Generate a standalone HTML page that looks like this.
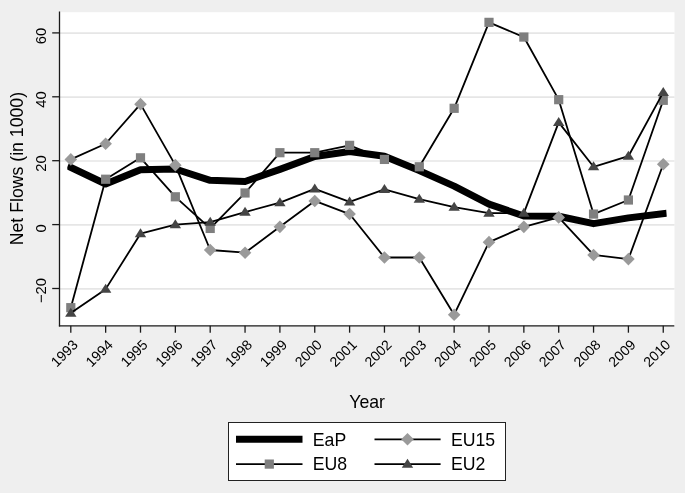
<!DOCTYPE html>
<html><head><meta charset="utf-8"><style>
html,body{margin:0;padding:0;background:#efefef;}
svg{display:block;will-change:transform;}
text{font-family:"Liberation Sans",sans-serif;fill:#000;}
</style></head><body>
<svg width="685" height="493" viewBox="0 0 685 493">
<rect x="0" y="0" width="685" height="493" fill="#efefef"/>
<rect x="59.5" y="12.2" width="615" height="313.8" fill="#fff"/>

<line x1="60" y1="33.20" x2="674.5" y2="33.20" stroke="#e6e6e6" stroke-width="1.7"/>
<line x1="60" y1="97.10" x2="674.5" y2="97.10" stroke="#e6e6e6" stroke-width="1.7"/>
<line x1="60" y1="161.00" x2="674.5" y2="161.00" stroke="#e6e6e6" stroke-width="1.7"/>
<line x1="60" y1="224.90" x2="674.5" y2="224.90" stroke="#e6e6e6" stroke-width="1.7"/>
<line x1="60" y1="288.80" x2="674.5" y2="288.80" stroke="#e6e6e6" stroke-width="1.7"/>
<line x1="59.5" y1="11.5" x2="59.5" y2="326.4" stroke="#1a1a1a" stroke-width="1.3"/>
<line x1="58.9" y1="325.9" x2="674.3" y2="325.9" stroke="#1a1a1a" stroke-width="1.3"/>
<line x1="52.2" y1="32.90" x2="59.5" y2="32.90" stroke="#1a1a1a" stroke-width="1.3"/>
<text transform="translate(45.5,36.10) rotate(-90)" text-anchor="middle" font-size="14.8">60</text>
<line x1="52.2" y1="96.80" x2="59.5" y2="96.80" stroke="#1a1a1a" stroke-width="1.3"/>
<text transform="translate(45.5,99.50) rotate(-90)" text-anchor="middle" font-size="14.8">40</text>
<line x1="52.2" y1="160.70" x2="59.5" y2="160.70" stroke="#1a1a1a" stroke-width="1.3"/>
<text transform="translate(45.5,163.50) rotate(-90)" text-anchor="middle" font-size="14.8">20</text>
<line x1="52.2" y1="224.60" x2="59.5" y2="224.60" stroke="#1a1a1a" stroke-width="1.3"/>
<text transform="translate(45.5,228.50) rotate(-90)" text-anchor="middle" font-size="14.8">0</text>
<line x1="52.2" y1="288.50" x2="59.5" y2="288.50" stroke="#1a1a1a" stroke-width="1.3"/>
<text transform="translate(45.5,290.50) rotate(-90)" text-anchor="middle" font-size="14.8">−20</text>
<line x1="70.80" y1="325.8" x2="70.80" y2="332.7" stroke="#1a1a1a" stroke-width="1.3"/>
<text transform="translate(78.90,345.7) rotate(-45)" text-anchor="end" font-size="14.1">1993</text>
<line x1="105.65" y1="325.8" x2="105.65" y2="332.7" stroke="#1a1a1a" stroke-width="1.3"/>
<text transform="translate(113.75,345.7) rotate(-45)" text-anchor="end" font-size="14.1">1994</text>
<line x1="140.50" y1="325.8" x2="140.50" y2="332.7" stroke="#1a1a1a" stroke-width="1.3"/>
<text transform="translate(148.60,345.7) rotate(-45)" text-anchor="end" font-size="14.1">1995</text>
<line x1="175.35" y1="325.8" x2="175.35" y2="332.7" stroke="#1a1a1a" stroke-width="1.3"/>
<text transform="translate(183.45,345.7) rotate(-45)" text-anchor="end" font-size="14.1">1996</text>
<line x1="210.20" y1="325.8" x2="210.20" y2="332.7" stroke="#1a1a1a" stroke-width="1.3"/>
<text transform="translate(218.30,345.7) rotate(-45)" text-anchor="end" font-size="14.1">1997</text>
<line x1="245.05" y1="325.8" x2="245.05" y2="332.7" stroke="#1a1a1a" stroke-width="1.3"/>
<text transform="translate(253.15,345.7) rotate(-45)" text-anchor="end" font-size="14.1">1998</text>
<line x1="279.90" y1="325.8" x2="279.90" y2="332.7" stroke="#1a1a1a" stroke-width="1.3"/>
<text transform="translate(288.00,345.7) rotate(-45)" text-anchor="end" font-size="14.1">1999</text>
<line x1="314.75" y1="325.8" x2="314.75" y2="332.7" stroke="#1a1a1a" stroke-width="1.3"/>
<text transform="translate(322.85,345.7) rotate(-45)" text-anchor="end" font-size="14.1">2000</text>
<line x1="349.60" y1="325.8" x2="349.60" y2="332.7" stroke="#1a1a1a" stroke-width="1.3"/>
<text transform="translate(357.70,345.7) rotate(-45)" text-anchor="end" font-size="14.1">2001</text>
<line x1="384.45" y1="325.8" x2="384.45" y2="332.7" stroke="#1a1a1a" stroke-width="1.3"/>
<text transform="translate(392.55,345.7) rotate(-45)" text-anchor="end" font-size="14.1">2002</text>
<line x1="419.30" y1="325.8" x2="419.30" y2="332.7" stroke="#1a1a1a" stroke-width="1.3"/>
<text transform="translate(427.40,345.7) rotate(-45)" text-anchor="end" font-size="14.1">2003</text>
<line x1="454.15" y1="325.8" x2="454.15" y2="332.7" stroke="#1a1a1a" stroke-width="1.3"/>
<text transform="translate(462.25,345.7) rotate(-45)" text-anchor="end" font-size="14.1">2004</text>
<line x1="489.00" y1="325.8" x2="489.00" y2="332.7" stroke="#1a1a1a" stroke-width="1.3"/>
<text transform="translate(497.10,345.7) rotate(-45)" text-anchor="end" font-size="14.1">2005</text>
<line x1="523.85" y1="325.8" x2="523.85" y2="332.7" stroke="#1a1a1a" stroke-width="1.3"/>
<text transform="translate(531.95,345.7) rotate(-45)" text-anchor="end" font-size="14.1">2006</text>
<line x1="558.70" y1="325.8" x2="558.70" y2="332.7" stroke="#1a1a1a" stroke-width="1.3"/>
<text transform="translate(566.80,345.7) rotate(-45)" text-anchor="end" font-size="14.1">2007</text>
<line x1="593.55" y1="325.8" x2="593.55" y2="332.7" stroke="#1a1a1a" stroke-width="1.3"/>
<text transform="translate(601.65,345.7) rotate(-45)" text-anchor="end" font-size="14.1">2008</text>
<line x1="628.40" y1="325.8" x2="628.40" y2="332.7" stroke="#1a1a1a" stroke-width="1.3"/>
<text transform="translate(636.50,345.7) rotate(-45)" text-anchor="end" font-size="14.1">2009</text>
<line x1="663.25" y1="325.8" x2="663.25" y2="332.7" stroke="#1a1a1a" stroke-width="1.3"/>
<text transform="translate(671.35,345.7) rotate(-45)" text-anchor="end" font-size="14.1">2010</text>
<text transform="translate(23.2,168.6) rotate(-90)" text-anchor="middle" font-size="17.7">Net Flows (in 1000)</text>
<text x="367.1" y="407.7" text-anchor="middle" font-size="17.7">Year</text>
<clipPath id="eapclip"><rect x="67.3" y="0" width="599.4" height="493"/></clipPath>
<polyline clip-path="url(#eapclip)" points="70.80,167.41 105.65,184.02 140.50,169.81 175.35,169.01 210.20,180.35 245.05,181.47 279.90,169.33 314.75,156.55 349.60,151.43 384.45,156.23 419.30,170.60 454.15,186.10 489.00,204.15 523.85,215.97 558.70,216.29 593.55,223.64 628.40,217.89 663.25,213.74" fill="none" stroke="#000" stroke-width="7" stroke-linejoin="round" stroke-linecap="square"/>
<polyline points="70.80,159.42 105.65,143.77 140.50,104.15 175.35,165.17 210.20,250.00 245.05,252.72 279.90,226.84 314.75,200.96 349.60,214.06 384.45,257.51 419.30,257.51 454.15,314.70 489.00,242.17 523.85,226.84 558.70,217.41 593.55,254.95 628.40,259.11 663.25,164.21" fill="none" stroke="#000" stroke-width="1.8" stroke-linejoin="round"/>
<path d="M70.80 153.12L77.10 159.42L70.80 165.72L64.50 159.42Z" fill="#9a9a9a"/>
<path d="M105.65 137.47L111.95 143.77L105.65 150.07L99.35 143.77Z" fill="#9a9a9a"/>
<path d="M140.50 97.85L146.80 104.15L140.50 110.45L134.20 104.15Z" fill="#9a9a9a"/>
<path d="M175.35 158.87L181.65 165.17L175.35 171.47L169.05 165.17Z" fill="#9a9a9a"/>
<path d="M210.20 243.70L216.50 250.00L210.20 256.30L203.90 250.00Z" fill="#9a9a9a"/>
<path d="M245.05 246.42L251.35 252.72L245.05 259.02L238.75 252.72Z" fill="#9a9a9a"/>
<path d="M279.90 220.54L286.20 226.84L279.90 233.14L273.60 226.84Z" fill="#9a9a9a"/>
<path d="M314.75 194.66L321.05 200.96L314.75 207.26L308.45 200.96Z" fill="#9a9a9a"/>
<path d="M349.60 207.76L355.90 214.06L349.60 220.36L343.30 214.06Z" fill="#9a9a9a"/>
<path d="M384.45 251.21L390.75 257.51L384.45 263.81L378.15 257.51Z" fill="#9a9a9a"/>
<path d="M419.30 251.21L425.60 257.51L419.30 263.81L413.00 257.51Z" fill="#9a9a9a"/>
<path d="M454.15 308.40L460.45 314.70L454.15 321.00L447.85 314.70Z" fill="#9a9a9a"/>
<path d="M489.00 235.87L495.30 242.17L489.00 248.47L482.70 242.17Z" fill="#9a9a9a"/>
<path d="M523.85 220.54L530.15 226.84L523.85 233.14L517.55 226.84Z" fill="#9a9a9a"/>
<path d="M558.70 211.11L565.00 217.41L558.70 223.71L552.40 217.41Z" fill="#9a9a9a"/>
<path d="M593.55 248.65L599.85 254.95L593.55 261.25L587.25 254.95Z" fill="#9a9a9a"/>
<path d="M628.40 252.81L634.70 259.11L628.40 265.41L622.10 259.11Z" fill="#9a9a9a"/>
<path d="M663.25 157.91L669.55 164.21L663.25 170.51L656.95 164.21Z" fill="#9a9a9a"/>
<polyline points="70.80,307.67 105.65,179.23 140.50,157.82 175.35,196.80 210.20,228.43 245.05,192.97 279.90,152.71 314.75,152.71 349.60,145.36 384.45,159.42 419.30,166.77 454.15,108.30 489.00,22.36 523.85,37.05 558.70,99.68 593.55,214.06 628.40,200.00 663.25,100.31" fill="none" stroke="#000" stroke-width="1.8" stroke-linejoin="round"/>
<rect x="66.20" y="303.07" width="9.2" height="9.2" fill="#7f7f7f"/>
<rect x="101.05" y="174.63" width="9.2" height="9.2" fill="#7f7f7f"/>
<rect x="135.90" y="153.22" width="9.2" height="9.2" fill="#7f7f7f"/>
<rect x="170.75" y="192.20" width="9.2" height="9.2" fill="#7f7f7f"/>
<rect x="205.60" y="223.83" width="9.2" height="9.2" fill="#7f7f7f"/>
<rect x="240.45" y="188.37" width="9.2" height="9.2" fill="#7f7f7f"/>
<rect x="275.30" y="148.11" width="9.2" height="9.2" fill="#7f7f7f"/>
<rect x="310.15" y="148.11" width="9.2" height="9.2" fill="#7f7f7f"/>
<rect x="345.00" y="140.76" width="9.2" height="9.2" fill="#7f7f7f"/>
<rect x="379.85" y="154.82" width="9.2" height="9.2" fill="#7f7f7f"/>
<rect x="414.70" y="162.17" width="9.2" height="9.2" fill="#7f7f7f"/>
<rect x="449.55" y="103.70" width="9.2" height="9.2" fill="#7f7f7f"/>
<rect x="484.40" y="17.76" width="9.2" height="9.2" fill="#7f7f7f"/>
<rect x="519.25" y="32.45" width="9.2" height="9.2" fill="#7f7f7f"/>
<rect x="554.10" y="95.08" width="9.2" height="9.2" fill="#7f7f7f"/>
<rect x="588.95" y="209.46" width="9.2" height="9.2" fill="#7f7f7f"/>
<rect x="623.80" y="195.40" width="9.2" height="9.2" fill="#7f7f7f"/>
<rect x="658.65" y="95.71" width="9.2" height="9.2" fill="#7f7f7f"/>
<polyline points="70.80,313.10 105.65,289.14 140.50,233.71 175.35,224.60 210.20,222.20 245.05,212.14 279.90,202.55 314.75,188.82 349.60,201.92 384.45,189.45 419.30,199.04 454.15,207.03 489.00,213.10 523.85,213.10 558.70,122.36 593.55,166.77 628.40,156.23 663.25,92.33" fill="none" stroke="#000" stroke-width="1.8" stroke-linejoin="round"/>
<path d="M70.80 307.70L76.50 316.70L65.10 316.70Z" fill="#454545"/>
<path d="M105.65 283.74L111.35 292.74L99.95 292.74Z" fill="#454545"/>
<path d="M140.50 228.31L146.20 237.31L134.80 237.31Z" fill="#454545"/>
<path d="M175.35 219.20L181.05 228.20L169.65 228.20Z" fill="#454545"/>
<path d="M210.20 216.80L215.90 225.80L204.50 225.80Z" fill="#454545"/>
<path d="M245.05 206.74L250.75 215.74L239.35 215.74Z" fill="#454545"/>
<path d="M279.90 197.15L285.60 206.15L274.20 206.15Z" fill="#454545"/>
<path d="M314.75 183.42L320.45 192.42L309.05 192.42Z" fill="#454545"/>
<path d="M349.60 196.52L355.30 205.52L343.90 205.52Z" fill="#454545"/>
<path d="M384.45 184.05L390.15 193.05L378.75 193.05Z" fill="#454545"/>
<path d="M419.30 193.64L425.00 202.64L413.60 202.64Z" fill="#454545"/>
<path d="M454.15 201.63L459.85 210.63L448.45 210.63Z" fill="#454545"/>
<path d="M489.00 207.70L494.70 216.70L483.30 216.70Z" fill="#454545"/>
<path d="M523.85 207.70L529.55 216.70L518.15 216.70Z" fill="#454545"/>
<path d="M558.70 116.96L564.40 125.96L553.00 125.96Z" fill="#454545"/>
<path d="M593.55 161.37L599.25 170.37L587.85 170.37Z" fill="#454545"/>
<path d="M628.40 150.83L634.10 159.83L622.70 159.83Z" fill="#454545"/>
<path d="M663.25 86.93L668.95 95.93L657.55 95.93Z" fill="#454545"/>
<rect x="228.5" y="422.5" width="277" height="58" fill="#fff" stroke="#222" stroke-width="1"/>
<line x1="236" y1="439.3" x2="302.5" y2="439.3" stroke="#000" stroke-width="7"/>
<line x1="236" y1="464.1" x2="302.5" y2="464.1" stroke="#000" stroke-width="1.8"/>
<rect x="264.70" y="459.50" width="9.2" height="9.2" fill="#7f7f7f"/>
<line x1="374.5" y1="439.3" x2="440.6" y2="439.3" stroke="#000" stroke-width="1.8"/>
<path d="M407.50 433.00L413.80 439.30L407.50 445.60L401.20 439.30Z" fill="#9a9a9a"/>
<line x1="374.5" y1="464.1" x2="440.6" y2="464.1" stroke="#000" stroke-width="1.8"/>
<path d="M407.50 458.70L413.20 467.70L401.80 467.70Z" fill="#454545"/>
<text x="312.8" y="445.5" font-size="17.7">EaP</text>
<text x="312.8" y="470.4" font-size="17.7">EU8</text>
<text x="450.9" y="445.5" font-size="17.7">EU15</text>
<text x="450.9" y="470.4" font-size="17.7">EU2</text>
</svg>
</body></html>
